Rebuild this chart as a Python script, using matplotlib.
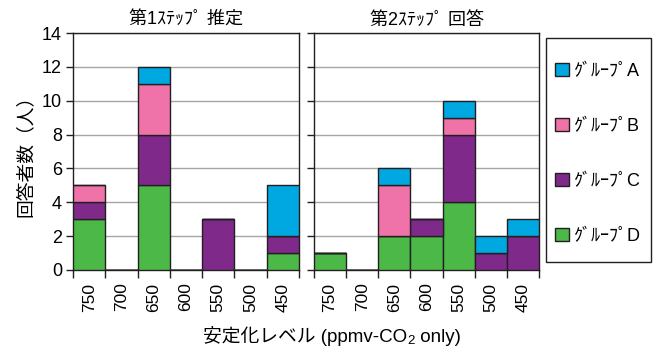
import numpy as np
import matplotlib
matplotlib.use('Agg')
import matplotlib.pyplot as plt
from matplotlib.patches import Patch, Rectangle

plt.rcParams['font.family'] = ['Liberation Sans', 'Noto Sans CJK JP', 'DejaVu Sans']

# 安定化レベル（ppmv）
levels = ['750', '700', '650', '600', '550', '500', '450']
groups = ['ｸﾞﾙｰﾌﾟD', 'ｸﾞﾙｰﾌﾟC', 'ｸﾞﾙｰﾌﾟB', 'ｸﾞﾙｰﾌﾟA']
colors = ['#4cb848', '#7f2a8b', '#ef72a8', '#00a8e1']

# 第1ステップ 推定（下から D, C, B, A）
step1_D = [3, 0, 5, 0, 0, 0, 1]
step1_C = [1, 0, 3, 0, 3, 0, 1]
step1_B = [1, 0, 3, 0, 0, 0, 0]
step1_A = [0, 0, 1, 0, 0, 0, 3]

# 第2ステップ 回答
step2_D = [1, 0, 2, 2, 4, 0, 0]
step2_C = [0, 0, 0, 1, 4, 1, 2]
step2_B = [0, 0, 3, 0, 1, 0, 0]
step2_A = [0, 0, 1, 0, 1, 1, 1]

titles = ['第1ｽﾃｯﾌﾟ 推定', '第2ｽﾃｯﾌﾟ 回答']
data = [[step1_D, step1_C, step1_B, step1_A],
        [step2_D, step2_C, step2_B, step2_A]]

W, H = 653, 349
fig = plt.figure(figsize=(W / 100, H / 100), dpi=100)
ax1 = fig.add_axes([73 / W, 79 / H, 226 / W, 237 / H])
ax2 = fig.add_axes([314 / W, 79 / H, 225 / W, 237 / H])

x = np.arange(len(levels))
edge = '#231f20'

for ax, title, series in zip([ax1, ax2], titles, data):
    bottom = np.zeros(len(levels))
    for vals, c in zip(series, colors):
        vals = np.array(vals, dtype=float)
        ax.bar(x, vals, width=1.0, bottom=bottom, color=c,
               edgecolor=edge, linewidth=1.0, zorder=3)
        bottom += vals
    ax.set_xlim(-0.5, len(levels) - 0.5)
    ax.set_ylim(0, 14)
    ax.set_yticks(np.arange(0, 15, 2))
    ax.yaxis.grid(True, color='#a6a6a6', linewidth=1.0, zorder=0)
    ax.set_axisbelow(True)
    ax.set_xticks(x)
    ax.set_xticklabels(levels, rotation=90, fontsize=12.5)
    ax.set_xticks(np.arange(-0.5, len(levels), 1.0), minor=True)
    ax.tick_params(axis='x', which='major', length=0, pad=9)
    ax.tick_params(axis='x', which='minor', length=6, width=1.0,
                   direction='out', color=edge)
    ax.tick_params(axis='y', length=5, width=1.0, direction='out',
                   color=edge, labelsize=13, pad=3)
    for s in ax.spines.values():
        s.set_color(edge)
        s.set_linewidth(1.0)
    ax.set_title(title, fontsize=13, pad=6)

ax2.tick_params(axis='y', labelleft=False)

ax1.set_ylabel('回答者数（人）', fontsize=13.5, labelpad=5)

# x軸ラベル（CO2 の 2 は下付き）
t1 = fig.text(203 / W, 3 / H, '安定化レベル (ppmv-CO', fontsize=13.5,
              ha='left', va='bottom')
fig.add_artist(plt.Annotation('2', xy=(1, 0), xycoords=t1, xytext=(0, -1),
                              textcoords='offset points', fontsize=9.5,
                              ha='left', va='bottom', annotation_clip=False))
fig.add_artist(plt.Annotation(' only)', xy=(1, 0), xycoords=t1, xytext=(6, 0),
                              textcoords='offset points', fontsize=13.5,
                              ha='left', va='bottom', annotation_clip=False))

# 凡例の枠
fig.add_artist(Rectangle((546 / W, 1 - 262 / H), 105 / W, 224 / H,
                         transform=fig.transFigure, facecolor='white',
                         edgecolor=edge, linewidth=1.0))

handles = [Patch(facecolor=c, edgecolor=edge, linewidth=1.0, label=g)
           for g, c in zip(groups, colors)][::-1]
leg = fig.legend(handles=handles, loc='center',
                 bbox_to_anchor=(598 / W, 1 - 154 / H),
                 frameon=False, fontsize=13,
                 handlelength=0.75, handleheight=0.75, handletextpad=0.3,
                 labelspacing=2.1, borderpad=0, borderaxespad=0)

fig.savefig('out.png', dpi=100)
